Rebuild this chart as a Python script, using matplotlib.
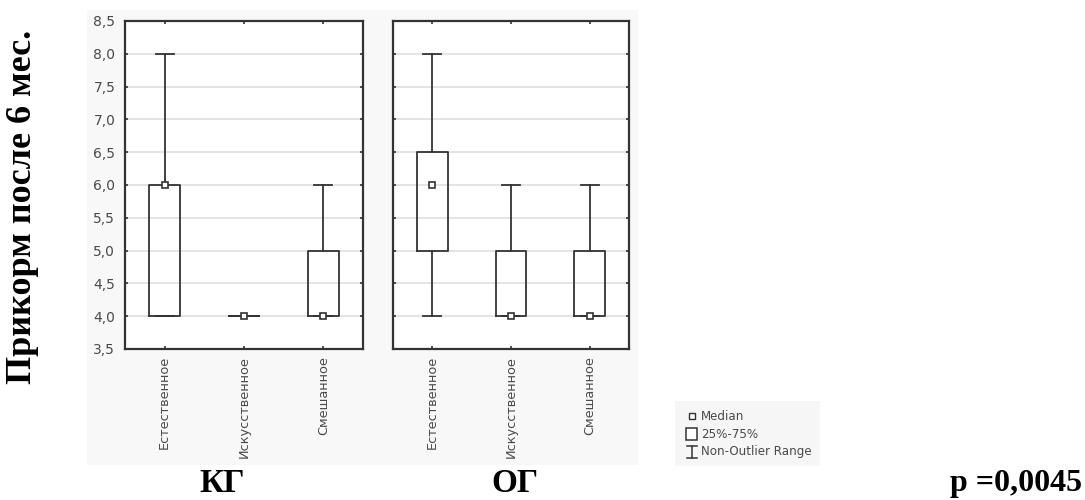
import matplotlib
matplotlib.use("Agg")
import matplotlib.pyplot as plt
from matplotlib.patches import Rectangle

categories = ['Естественное', 'Искусственное', 'Смешанное']
kg_median = [6.0, 4.0, 4.0]
kg_q1 = [4.0, 4.0, 4.0]
kg_q3 = [6.0, 4.0, 5.0]
kg_low = [4.0, 4.0, 4.0]
kg_high = [8.0, 4.0, 6.0]
og_median = [6.0, 4.0, 4.0]
og_q1 = [5.0, 4.0, 4.0]
og_q3 = [6.5, 5.0, 5.0]
og_low = [4.0, 4.0, 4.0]
og_high = [8.0, 6.0, 6.0]
y_ticks = [3.5, 4.0, 4.5, 5.0, 5.5, 6.0, 6.5, 7.0, 7.5, 8.0, 8.5]
y_label = 'Прикорм после 6 мес.'
group_labels = ['КГ', 'ОГ']
p_text = 'p =0,0045'
legend_labels = ['Median', '25%-75%', 'Non-Outlier Range']

W, H = 1085, 500
fig = plt.figure(figsize=(W / 100, H / 100), dpi=100)
fig.patch.set_facecolor('white')

def px(x0, y0, x1, y1):
    return [x0 / W, 1 - y1 / H, (x1 - x0) / W, (y1 - y0) / H]

# light gray background of the embedded chart image
bg = fig.add_axes(px(87, 10, 638, 465), zorder=-5)
bg.set_facecolor('#f8f8f8')
bg.set_xticks([])
bg.set_yticks([])
for s in bg.spines.values():
    s.set_visible(False)

dark = '#333333'
lab = '#4a4a4a'
serif = ['Liberation Serif', 'DejaVu Serif']

def draw_panel(ax, med, q1, q3, lo, hi, show_y):
    stats = []
    for i in range(len(categories)):
        stats.append(dict(med=med[i], q1=q1[i], q3=q3[i], whislo=lo[i], whishi=hi[i],
                          fliers=[], label=categories[i]))
    pos = list(range(1, len(categories) + 1))
    ax.bxp(stats, positions=pos, widths=0.39, capwidths=0.23, showfliers=False,
           boxprops=dict(color=dark, linewidth=1.3),
           whiskerprops=dict(color=dark, linewidth=1.3),
           capprops=dict(color=dark, linewidth=1.3),
           medianprops=dict(linestyle='none'), zorder=3)
    ax.plot(pos, med, linestyle='none', marker='s', markersize=4.8,
            markerfacecolor='white', markeredgecolor=dark, markeredgewidth=1.2, zorder=4)
    ax.set_xlim(0.5, 3.5)
    ax.set_ylim(3.5, 8.5)
    ax.set_yticks(y_ticks)
    ax.set_yticklabels([f'{v:.1f}'.replace('.', ',') for v in y_ticks])
    ax.set_xticks(pos)
    ax.set_xticklabels(categories, rotation=90, fontsize=9.3, color=lab)
    ax.yaxis.grid(True, color='#e2e2e2', linewidth=1.3, zorder=0)
    ax.set_axisbelow(True)
    ax.tick_params(axis='both', which='both', direction='in', length=2.5, width=1.2,
                   colors=dark, top=True, right=True, labelcolor=lab)
    ax.tick_params(axis='y', labelsize=10, labelleft=show_y, pad=7)
    ax.tick_params(axis='x', pad=5)
    for s in ax.spines.values():
        s.set_color(dark)
        s.set_linewidth(1.6)
    ax.set_facecolor('white')

ax1 = fig.add_axes(px(125, 21, 363, 349))
draw_panel(ax1, kg_median, kg_q1, kg_q3, kg_low, kg_high, True)
ax2 = fig.add_axes(px(393, 21, 629, 349))
draw_panel(ax2, og_median, og_q1, og_q3, og_low, og_high, False)

# legend box
lg = fig.add_axes(px(675, 401, 820, 466))
lg.set_facecolor('#f6f6f6')
lg.set_xlim(0, 145)
lg.set_ylim(65, 0)
lg.set_xticks([])
lg.set_yticks([])
for s in lg.spines.values():
    s.set_visible(False)
lg.plot([17], [15], marker='s', markersize=4, markerfacecolor='white',
        markeredgecolor=dark, markeredgewidth=1.0, linestyle='none')
lg.add_patch(Rectangle((11, 27), 11, 12, facecolor='white', edgecolor=dark, linewidth=1.1))
lg.plot([17, 17], [45, 57], color=dark, linewidth=1.1)
lg.plot([12, 22], [45, 45], color=dark, linewidth=1.1)
lg.plot([12, 22], [57, 57], color=dark, linewidth=1.1)
for i, t in enumerate(legend_labels):
    lg.text(26, [15, 33, 51][i], t, fontsize=8.6, color=lab,
            va='center', ha='left')

fig.text(23 / W, 1 - 207 / H, y_label, rotation=90, fontsize=26, fontweight='bold',
         family=serif, ha='center', va='center')
fig.text(222 / W, 1 - 483 / H, group_labels[0], fontsize=24, fontweight='bold',
         family=serif, ha='center', va='center')
fig.text(515 / W, 1 - 483 / H, group_labels[1], fontsize=24, fontweight='bold',
         family=serif, ha='center', va='center')
fig.text(1082 / W, 1 - 484 / H, p_text, fontsize=23, fontweight='bold',
         family=serif, ha='right', va='center')

fig.savefig('out.png', dpi=100)
